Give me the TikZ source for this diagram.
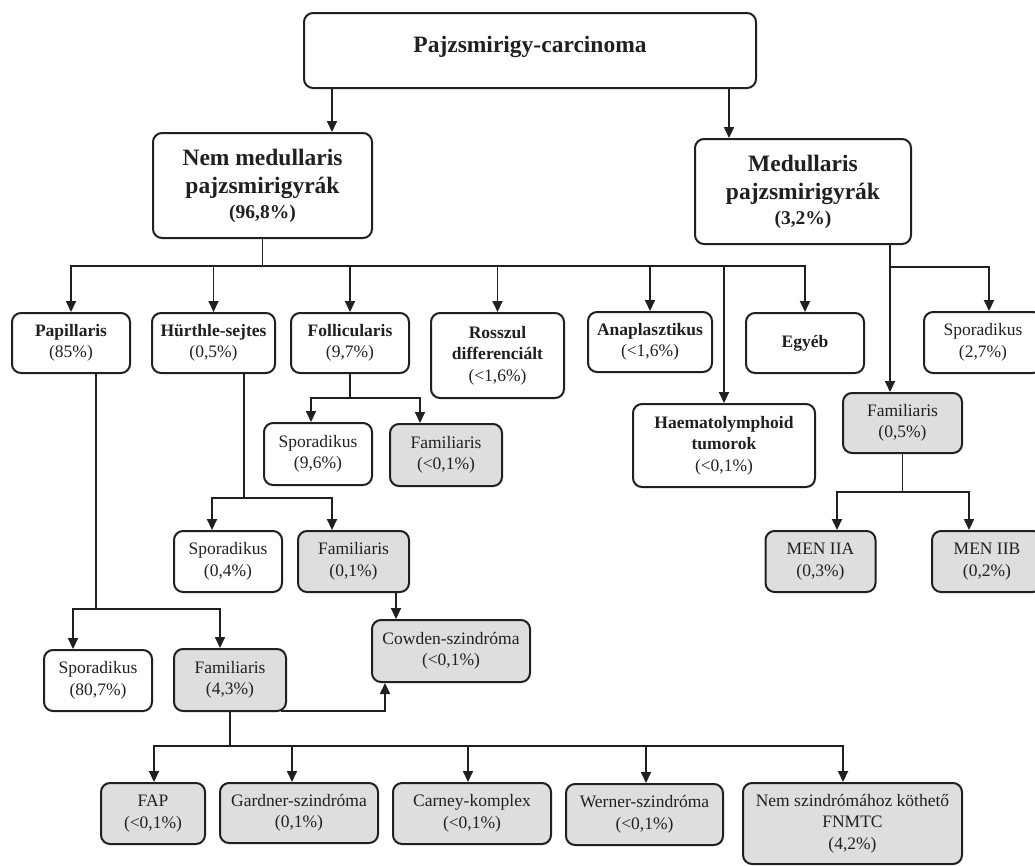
\documentclass[tikz,border=0pt]{standalone}
\usepackage{fontspec}
\setmainfont{Liberation Serif}
\usetikzlibrary{arrows.meta}
\definecolor{ink}{RGB}{35,31,32}
\definecolor{boxgray}{RGB}{221,222,224}
\newcommand\fsn{\fontsize{17.5}{21.5}\selectfont}
\newcommand\fsb{\fontsize{23.5}{28}\selectfont\bfseries}
\newcommand\fsp{\fontsize{19.5}{24}\selectfont\bfseries}
\tikzset{
  box/.style={draw=ink, text=ink, line width=2pt, rounded corners=9pt, fill=white,
    align=center, inner sep=0pt, font=\fsn},
  gbox/.style={box, fill=boxgray},
  arr/.style={-{Triangle[length=11pt,width=10pt]}, line width=1.9pt, draw=ink},
  stemline/.style={line width=1.9pt, draw=ink},
}
\begin{document}
\begin{tikzpicture}[x=1pt,y=-1pt]
    \useasboundingbox (0,0) rectangle (1035,865);
    % main groups
    \node[box,font=\fsb,text depth=12pt,minimum width=452,minimum height=75] (top) at (530,50.5) {Pajzsmirigy-carcinoma};
    \node[box,font=\fsb,minimum width=219,minimum height=105] (nem) at (262.5,185.5)
        {Nem medullaris\\pajzsmirigyrák\\[-3pt]{\fsp (96,8\%)}};
    \node[box,font=\fsb,minimum width=216,minimum height=105] (med) at (803,191.5)
        {Medullaris\\pajzsmirigyrák\\[-3pt]{\fsp (3,2\%)}};
    % second row
    \node[box,minimum width=118,minimum height=60] (pap) at (71,343) {\textbf{Papillaris}\\(85\%)};
    \node[box,minimum width=123,minimum height=60] (hur) at (213.5,343) {\textbf{Hürthle-sejtes}\\(0,5\%)};
    \node[box,minimum width=118,minimum height=60] (fol) at (350,343) {\textbf{Follicularis}\\(9,7\%)};
    \node[box,minimum width=133,minimum height=85] (ross) at (497.5,355.5)
        {\textbf{Rosszul}\\\textbf{differenciált}\\(<1,6\%)};
    \node[box,minimum width=124,minimum height=60] (ana) at (650,342) {\textbf{Anaplasztikus}\\(<1,6\%)};
    \node[box,minimum width=182,minimum height=83] (haem) at (724,445.5)
        {\textbf{Haematolymphoid}\\\textbf{tumorok}\\(<0,1\%)};
    \node[box,minimum width=118,minimum height=60] (egy) at (805,343) {\textbf{Egyéb}};
    \node[box,minimum width=118,minimum height=61] (spm) at (983,342.5) {Sporadikus\\(2,7\%)};
    \node[gbox,minimum width=119,minimum height=60] (fam05) at (902.5,423) {Familiaris\\(0,5\%)};
    \node[gbox,minimum width=110,minimum height=61] (men2a) at (820.5,561.5) {MEN IIA\\(0,3\%)};
    \node[gbox,minimum width=110,minimum height=61] (men2b) at (987,561.5) {MEN IIB\\(0,2\%)};
    % sub types
    \node[box,minimum width=108,minimum height=62] (spf) at (318,454) {Sporadikus\\(9,6\%)};
    \node[gbox,minimum width=112,minimum height=62] (faf) at (446,455) {Familiaris\\(<0,1\%)};
    \node[box,minimum width=108,minimum height=61] (sph) at (228,561.5) {Sporadikus\\(0,4\%)};
    \node[gbox,minimum width=111,minimum height=61] (fah) at (353.5,561.5) {Familiaris\\(0,1\%)};
    \node[gbox,minimum width=158,minimum height=62] (cowden) at (451,651) {Cowden-szindróma\\(<0,1\%)};
    \node[box,minimum width=108,minimum height=61] (spp) at (98,680.5) {Sporadikus\\(80,7\%)};
    \node[gbox,minimum width=112,minimum height=62] (fap43) at (230,680) {Familiaris\\(4,3\%)};
    \node[gbox,minimum width=104,minimum height=61] (fap) at (153,813.5) {FAP\\(<0,1\%)};
    \node[gbox,minimum width=158,minimum height=60] (gard) at (299,813) {Gardner-szindróma\\(0,1\%)};
    \node[gbox,minimum width=158,minimum height=61] (carn) at (472,813.5) {Carney-komplex\\(<0,1\%)};
    \node[gbox,minimum width=157,minimum height=61] (wern) at (644.5,814.5) {Werner-szindróma\\(<0,1\%)};
    \node[gbox,minimum width=219,minimum height=81] (nsz) at (852.5,823.5)
        {Nem szindrómához köthető\\FNMTC\\(4,2\%)};
    % connectors
    \coordinate (a1) at ([xshift=69.5pt]nem.north);
    \coordinate (a2) at ([xshift=-74pt]med.north);
    \draw[arr] (top.south -| a1) -- (a1);
    \draw[arr] (top.south -| a2) -- (a2);
    \coordinate (busL) at ([yshift=-27pt]nem.south);
    \draw[stemline] (nem.south) -- (busL);
    \foreach \n in {pap,hur,fol,ross,ana,haem,egy}
        \draw[arr] (busL) -| (\n.north);
    \coordinate (ms) at ([xshift=87pt]med.south);
    \coordinate (busR) at ([yshift=-22pt]ms);
    \draw[arr] (ms) -- (ms |- fam05.north);
    \draw[arr] (busR) -| ([xshift=6pt]spm.north);
    \coordinate (busM) at ([yshift=-38pt]fam05.south);
    \draw[stemline] (fam05.south) -- (busM);
    \draw[arr] (busM) -| ([xshift=16.5pt]men2a.north);
    \draw[arr] (busM) -| ([xshift=-18pt]men2b.north);
    \coordinate (busF) at ([yshift=-24pt]fol.south);
    \draw[stemline] (fol.south) -- (busF);
    \draw[arr] (busF) -| ([xshift=-7pt]spf.north);
    \draw[arr] (busF) -| ([xshift=-26pt]faf.north);
    \coordinate (hs) at ([xshift=30.5pt]hur.south);
    \coordinate (busH) at ([yshift=-124pt]hs);
    \draw[stemline] (hs) -- (busH);
    \draw[arr] (busH) -| ([xshift=-16pt]sph.north);
    \draw[arr] (busH) -| ([xshift=-21.5pt]fah.north);
    \coordinate (c1) at ([xshift=42.5pt]fah.south);
    \draw[arr] (c1) -- (c1 |- cowden.north);
    \coordinate (ps) at ([xshift=25pt]pap.south);
    \coordinate (busP) at ([yshift=-235pt]ps);
    \draw[stemline] (ps) -- (busP);
    \draw[arr] (busP) -| ([xshift=-25pt]spp.north);
    \draw[arr] (busP) -| ([xshift=-10pt]fap43.north);
    \draw[arr] ([xshift=-6pt,yshift=1pt]fap43.south east) -| ([xshift=14pt]cowden.south west);
    \coordinate (busB) at ([yshift=-34pt]fap43.south);
    \draw[stemline] (fap43.south) -- (busB);
    \foreach \n/\d in {fap/1,gard/-7,carn/-4,wern/1.5,nsz/-9.5}
        \draw[arr] (busB) -| ([xshift=\d pt]\n.north);
\end{tikzpicture}
\end{document}
